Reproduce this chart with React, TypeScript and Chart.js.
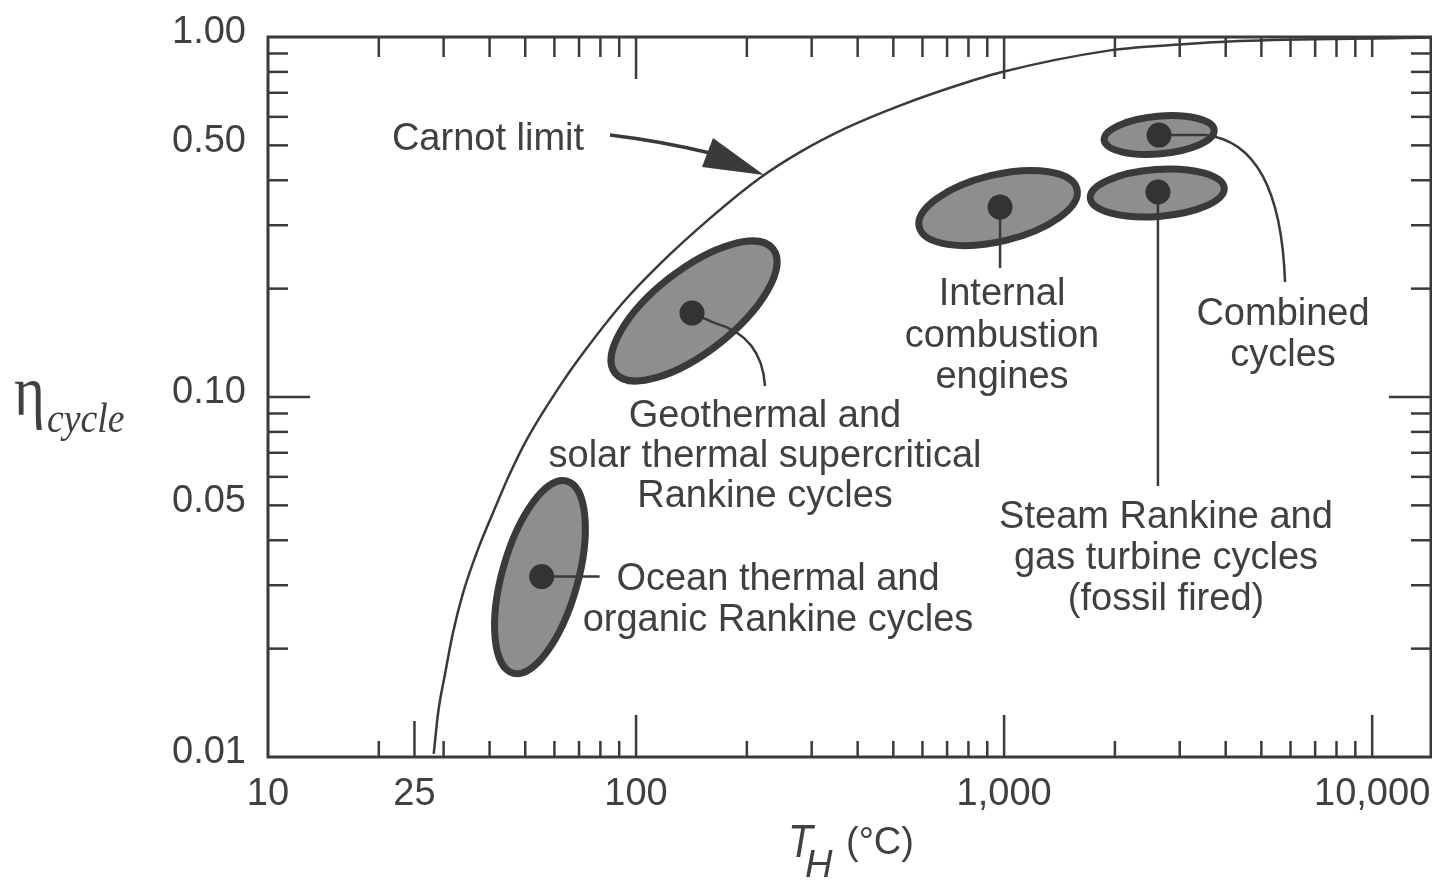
import React, { useEffect, useRef } from "react";
import { Chart, registerables } from "chart.js";

Chart.register(...registerables);

// ---- Carnot limit curve ----
const carnotT = [28.2, 29.0, 30.3, 31.8, 33.9, 37.0, 40.9, 45.5, 50.6, 63.3, 73.6, 92.2, 116, 159, 217, 279, 374, 521, 759, 975, 1941, 2844, 4355, 12060, 14450];
const carnotEta = [0.0102, 0.0133, 0.0171, 0.0221, 0.0286, 0.0372, 0.0478, 0.0615, 0.0765, 0.1105, 0.137, 0.183, 0.234, 0.314, 0.406, 0.479, 0.56, 0.645, 0.738, 0.797, 0.918, 0.95, 0.975, 0.994, 0.997];

// ---- Cycle regions: ends of the major axis (T, eta) and minor/major ratio ----
const regionNames = ["Ocean thermal", "Geothermal", "Internal combustion", "Combined cycles", "Steam Rankine"];
const regionT1 = [46.3, 87.7, 588, 1870, 1714];
const regionEta1 = [0.0171, 0.1166, 0.2966, 0.5174, 0.357];
const regionT2 = [64.9, 235.6, 1578, 3722, 3963];
const regionEta2 = [0.0584, 0.2577, 0.378, 0.5517, 0.3806];
const regionRatio = [0.38, 0.41, 0.41, 0.34, 0.35];

// ---- Representative points (dots) ----
const dotT = [55.4, 141.9, 975, 2636, 2618];
const dotEta = [0.0317, 0.171, 0.337, 0.534, 0.371];

// ---- Tick labels ----
const xTickValues = [10, 25, 100, 1000, 10000];
const xTickLabels = ["10", "25", "100", "1,000", "10,000"];
const yTickValues = [0.01, 0.05, 0.1, 0.5, 1];
const yTickLabels = ["0.01", "0.05", "0.10", "0.50", "1.00"];
const xDecades = [10, 100, 1000];
const yDecades = [0.01, 0.1];

const INK = "#3a3a3a";
const TEXT = "#404040";
const FILL = "#8e8e8e";
const SANS = '"Liberation Sans", Arial, Helvetica, sans-serif';
const SERIF = '"Liberation Serif", "Times New Roman", serif';

function drawText(ctx: CanvasRenderingContext2D, s: string, x: number, y: number, font: string, align: CanvasTextAlign = "center", sx = 1) {
  ctx.save();
  ctx.font = font;
  ctx.textAlign = align;
  ctx.textBaseline = "alphabetic";
  ctx.fillStyle = TEXT;
  ctx.translate(x, y);
  ctx.scale(sx, 1);
  ctx.fillText(s, 0, 0);
  ctx.restore();
}

const deco = {
  id: "deco",
  beforeDraw(chart: any) {
    const { ctx, width, height } = chart;
    ctx.save();
    ctx.fillStyle = "#ffffff";
    ctx.fillRect(0, 0, width, height);
    ctx.restore();
  },
  beforeDatasetsDraw(chart: any) {
    const { ctx } = chart;
    const xs = chart.scales.x;
    const ys = chart.scales.y;
    for (let i = 0; i < regionNames.length; i++) {
      const x1 = xs.getPixelForValue(regionT1[i]);
      const y1 = ys.getPixelForValue(regionEta1[i]);
      const x2 = xs.getPixelForValue(regionT2[i]);
      const y2 = ys.getPixelForValue(regionEta2[i]);
      const cx = (x1 + x2) / 2;
      const cy = (y1 + y2) / 2;
      const a = Math.hypot(x2 - x1, y2 - y1) / 2;
      const b = a * regionRatio[i];
      const ang = Math.atan2(y2 - y1, x2 - x1);
      ctx.save();
      ctx.beginPath();
      ctx.ellipse(cx, cy, a, b, ang, 0, Math.PI * 2);
      ctx.fillStyle = FILL;
      ctx.fill();
      ctx.lineWidth = 7;
      ctx.strokeStyle = INK;
      ctx.stroke();
      ctx.restore();
    }
    const p = dotT.map((t, i) => [xs.getPixelForValue(t), ys.getPixelForValue(dotEta[i])]);
    ctx.save();
    ctx.strokeStyle = INK;
    ctx.lineWidth = 2.5;
    ctx.beginPath();
    ctx.moveTo(p[0][0], p[0][1]);
    ctx.lineTo(p[0][0] + 58, p[0][1]);
    ctx.stroke();
    ctx.beginPath();
    ctx.moveTo(p[1][0], p[1][1]);
    ctx.lineTo(p[1][0] + 23, p[1][1] + 10);
    ctx.quadraticCurveTo(p[1][0] + 70, p[1][1] + 23, p[1][0] + 73, p[1][1] + 73);
    ctx.stroke();
    ctx.beginPath();
    ctx.moveTo(p[2][0], p[2][1]);
    ctx.lineTo(p[2][0], 268);
    ctx.stroke();
    ctx.beginPath();
    ctx.moveTo(p[3][0], p[3][1]);
    ctx.lineTo(p[3][0] + 46, p[3][1]);
    ctx.quadraticCurveTo(p[3][0] + 121, p[3][1] + 8, p[3][0] + 126, 282);
    ctx.stroke();
    ctx.beginPath();
    ctx.moveTo(p[4][0], p[4][1]);
    ctx.lineTo(p[4][0], 486);
    ctx.stroke();
    ctx.restore();
  },
  afterDraw(chart: any) {
    const { ctx, chartArea } = chart;
    const xs = chart.scales.x;
    const ys = chart.scales.y;
    const { left, right, top, bottom } = chartArea;
    ctx.save();
    ctx.strokeStyle = INK;
    ctx.lineWidth = 2.5;
    const line = (x1: number, y1: number, x2: number, y2: number) => {
      ctx.beginPath();
      ctx.moveTo(x1, y1);
      ctx.lineTo(x2, y2);
      ctx.stroke();
    };
    for (const d of xDecades) {
      for (let m = 2; m <= 9; m++) {
        const px = xs.getPixelForValue(m * d);
        line(px, bottom, px, bottom - 16);
        line(px, top, px, top + 20);
      }
      if (d > 10) {
        const px = xs.getPixelForValue(d);
        line(px, bottom, px, bottom - 42);
        line(px, top, px, top + 42);
      }
    }
    {
      const px = xs.getPixelForValue(10000);
      line(px, bottom, px, bottom - 42);
      line(px, top, px, top + 20);
      const p25 = xs.getPixelForValue(25);
      line(p25, bottom, p25, bottom - 36);
    }
    for (const d of yDecades) {
      for (let m = 2; m <= 9; m++) {
        const py = ys.getPixelForValue(m * d);
        line(left, py, left + 20, py);
        line(right, py, right - 20, py);
      }
    }
    {
      const py = ys.getPixelForValue(0.1);
      line(left, py, left + 42, py);
      line(right, py, right - 42, py);
    }
    ctx.lineWidth = 3;
    ctx.strokeRect(left, top, right - left, bottom - top);

    // Carnot arrow
    ctx.lineWidth = 3.5;
    ctx.beginPath();
    ctx.moveTo(610, 135);
    ctx.quadraticCurveTo(660, 141, 710, 153);
    ctx.stroke();
    ctx.fillStyle = INK;
    ctx.beginPath();
    ctx.moveTo(764, 175);
    ctx.lineTo(713, 138);
    ctx.lineTo(702, 167);
    ctx.closePath();
    ctx.fill();
    ctx.restore();

    const F = `38px ${SANS}`;
    drawText(ctx, "Carnot limit", 488, 150, F);
    ["Geothermal and", "solar thermal supercritical", "Rankine cycles"].forEach((s, i) => drawText(ctx, s, 765, 427 + i * 40, F));
    ["Ocean thermal and", "organic Rankine cycles"].forEach((s, i) => drawText(ctx, s, 778, 590 + i * 41, F));
    ["Internal", "combustion", "engines"].forEach((s, i) => drawText(ctx, s, 1002, 305 + i * 41.5, F));
    ["Combined", "cycles"].forEach((s, i) => drawText(ctx, s, 1283, 325 + i * 40.5, F));
    ["Steam Rankine and", "gas turbine cycles", "(fossil fired)"].forEach((s, i) => drawText(ctx, s, 1166, 528 + i * 41, F));

    drawText(ctx, "\u03B7", 14, 415, `72px ${SERIF}`, "left", 0.82);
    drawText(ctx, "cycle", 47, 432, `italic 42px ${SERIF}`, "left", 0.9);
    drawText(ctx, "T", 788, 857, `italic 46px ${SANS}`, "left", 0.88);
    drawText(ctx, "H", 805, 877, `italic 38px ${SANS}`, "left");
    drawText(ctx, "(\u00B0C)", 846, 854, `38px ${SANS}`, "left");
  },
};

export default function App() {
  const ref = useRef<HTMLCanvasElement>(null);
  useEffect(() => {
    document.body.style.margin = "0";
    const canvas = ref.current;
    if (!canvas) return;
    const chart = new Chart(canvas, {
      type: "scatter",
      data: {
        datasets: [
          {
            label: "Carnot limit",
            data: carnotT.map((t, i) => ({ x: t, y: carnotEta[i] })),
            showLine: true,
            pointRadius: 0,
            borderColor: INK,
            borderWidth: 2.5,
            cubicInterpolationMode: "monotone",
            fill: false,
          } as any,
          {
            label: "Cycles",
            data: dotT.map((t, i) => ({ x: t, y: dotEta[i] })),
            showLine: false,
            pointRadius: 12.5,
            pointBackgroundColor: "#333333",
            pointBorderWidth: 0,
          } as any,
        ],
      },
      options: {
        animation: false,
        responsive: false,
        devicePixelRatio: 1,
        events: [],
        layout: { autoPadding: false, padding: { top: 37, right: 1, left: 0, bottom: 0 } },
        plugins: { legend: { display: false }, tooltip: { enabled: false } },
        scales: {
          x: {
            type: "logarithmic",
            min: 10,
            max: 14450,
            grid: { display: false, drawTicks: false },
            border: { display: false },
            afterBuildTicks: (s: any) => {
              s.ticks = xTickValues.map((v) => ({ value: v }));
            },
            afterFit: (s: any) => {
              s.height = 124;
              s.paddingLeft = 0;
              s.paddingRight = 0;
              s.paddingTop = 0;
              s.paddingBottom = 0;
            },
            ticks: {
              autoSkip: false,
              maxRotation: 0,
              minRotation: 0,
              padding: 15,
              color: TEXT,
              font: { family: SANS, size: 38 },
              callback: (v: any) => {
                const i = xTickValues.indexOf(Number(v));
                return i >= 0 ? xTickLabels[i] : "";
              },
            },
          },
          y: {
            type: "logarithmic",
            min: 0.01,
            max: 1,
            grid: { display: false, drawTicks: false },
            border: { display: false },
            afterBuildTicks: (s: any) => {
              s.ticks = yTickValues.map((v) => ({ value: v }));
            },
            afterFit: (s: any) => {
              s.width = 268;
              s.paddingLeft = 0;
              s.paddingRight = 0;
              s.paddingTop = 0;
              s.paddingBottom = 0;
            },
            ticks: {
              autoSkip: false,
              padding: 22,
              labelOffset: -4,
              color: TEXT,
              font: { family: SANS, size: 38 },
              callback: (v: any) => {
                const i = yTickValues.indexOf(Number(v));
                return i >= 0 ? yTickLabels[i] : "";
              },
            },
          },
        } as any,
      },
      plugins: [deco],
    });
    return () => chart.destroy();
  }, []);
  return <canvas ref={ref} width={1432} height={881} style={{ display: "block" }} />;
}
